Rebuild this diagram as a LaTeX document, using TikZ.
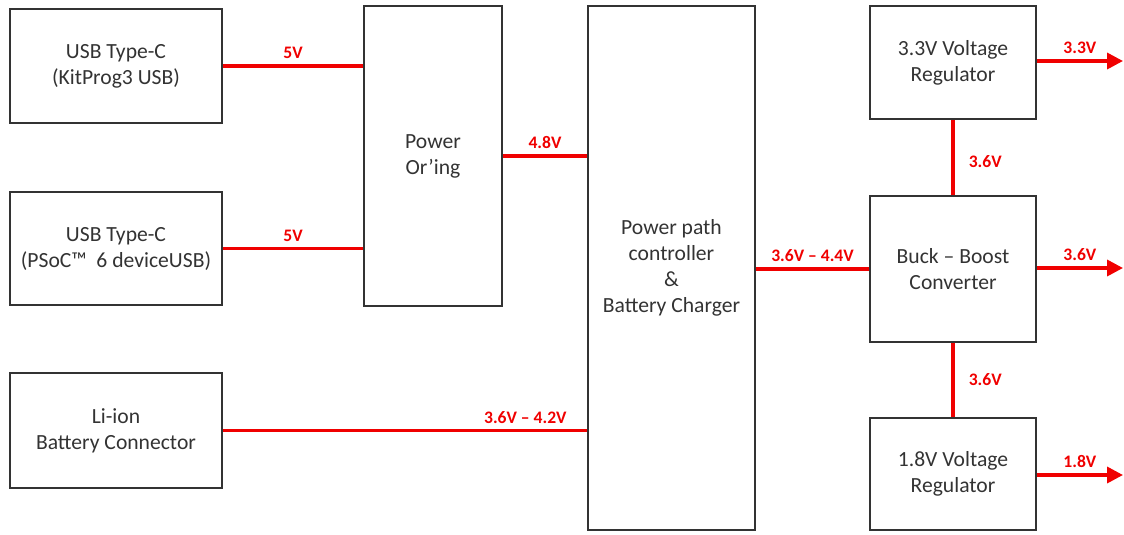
\documentclass[tikz,border=0pt]{standalone}
\usepackage{fontspec}
\setmainfont{Carlito}
\usetikzlibrary{arrows.meta}
\definecolor{txtgray}{HTML}{333333}
\definecolor{pwrred}{HTML}{F00000}

\begin{document}
\begin{tikzpicture}[x=0.02cm,y=-0.02cm,
    blk/.style={draw=txtgray,line width=0.8pt,text=txtgray,align=center,
        inner sep=0pt,font=\fontsize{12.3}{14.8}\selectfont},
    pwr/.style={draw=pwrred,line width=2pt},
    lbl/.style={text=pwrred,font=\fontsize{10}{11}\selectfont\bfseries,inner sep=3pt}]
    \useasboundingbox (0,0) rectangle (1124,534);
    \node[blk,minimum width=4.24cm,minimum height=2.28cm](usbkp)at (116,66){USB Type-C\\(KitProg3 USB)};
    \node[blk,minimum width=4.24cm,minimum height=2.26cm](usbdev)at (116,248.5){USB Type-C\\(PSoC™\ \ 6 deviceUSB)};
    \node[blk,minimum width=4.24cm,minimum height=2.30cm](batt)at (116,430.5){Li-ion\\Battery Connector};
    \node[blk,minimum width=2.76cm,minimum height=6.00cm](oring)at (433,156){Power\\Or’ing};
    \node[blk,minimum width=3.34cm,minimum height=10.48cm](ppc)at (671.5,268){Power path\\controller\\\&\\Battery Charger};
    \node[blk,minimum width=3.32cm,minimum height=2.26cm](reg33)at (953,62.5){3.3V Voltage\\Regulator};
    \node[blk,minimum width=3.32cm,minimum height=2.92cm](buck)at (953,269){Buck – Boost\\Converter};
    \node[blk,minimum width=3.32cm,minimum height=2.24cm](reg18)at (953,474){1.8V Voltage\\Regulator};
    \coordinate(out33)at (1123,61);
    \coordinate(out36)at (1123,268);
    \coordinate(out18)at (1123,475);
    \draw[pwr](usbkp.east)--(usbkp.east-|oring.west) node[lbl,midway,above]{5V};
    \draw[pwr](usbdev.east)--(usbdev.east-|oring.west) node[lbl,midway,above]{5V};
    \draw[pwr](oring.east)--(oring.east-|ppc.west) node[lbl,midway,above]{4.8V};
    \draw[pwr](batt.east)--(batt.east-|ppc.west) node[lbl,pos=0.83,above]{3.6V – 4.2V};
    \draw[pwr](ppc.east|-buck.west)--(buck.west) node[lbl,midway,above]{3.6V – 4.4V};
    \draw[pwr](reg33.south)--(buck.north) node[lbl,pos=0.55,right,inner sep=8pt]{3.6V};
    \draw[pwr](buck.south)--(reg18.north) node[lbl,midway,right,inner sep=8pt]{3.6V};
    \draw[pwr,-{Triangle[length=9pt,width=9pt]}](reg33.east|-out33)--(out33) node[lbl,midway,above]{3.3V};
    \draw[pwr,-{Triangle[length=9pt,width=9pt]}](buck.east|-out36)--(out36) node[lbl,midway,above]{3.6V};
    \draw[pwr,-{Triangle[length=9pt,width=9pt]}](reg18.east|-out18)--(out18) node[lbl,midway,above]{1.8V};
\end{tikzpicture}
\end{document}
